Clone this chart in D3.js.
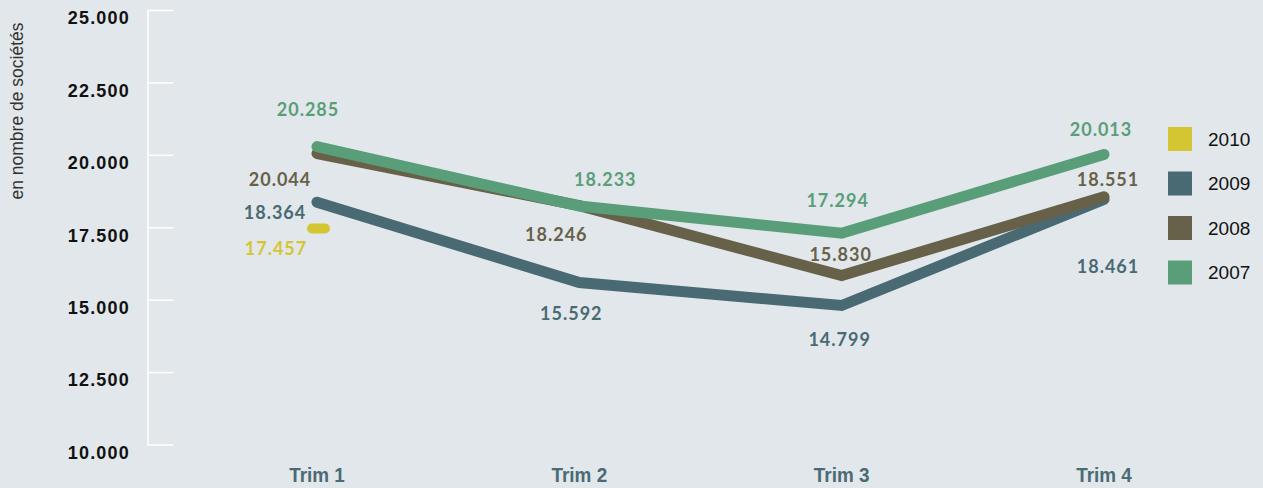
<!DOCTYPE html>
<html>
<head>
<meta charset="utf-8">
<script src="https://cdn.jsdelivr.net/npm/d3@7"></script>
<style>
  html, body { margin: 0; padding: 0; background: #e2e7eb; }
  svg { display: block; }
</style>
</head>
<body>
<svg id="chart" width="1263" height="488"></svg>
<script>
// Quarterly number of companies per year
const quarters = ["Trim 1", "Trim 2", "Trim 3", "Trim 4"];
const years = ["2010", "2009", "2008", "2007"];
const values2007 = [20285, 18233, 17294, 20013];
const values2008 = [20044, 18246, 15830, 18551];
const values2009 = [18364, 15592, 14799, 18461];
const values2010 = [17457];
const yTicks = [10000, 12500, 15000, 17500, 20000, 22500, 25000];

const colors = {
  "2010": "#d4c632",
  "2009": "#496a73",
  "2008": "#676149",
  "2007": "#5a9e79"
};

const seriesValues = {
  "2010": values2010,
  "2009": values2009,
  "2008": values2008,
  "2007": values2007
};

// Pixel nudges for the value labels, relative to their point [dx, dy]
const labelNudge = {
  "2007": [[-9, -37], [26, -26], [-4, -33], [-3, -25]],
  "2008": [[-37, 26], [-23, 29], [-1, -21], [4, -17]],
  "2009": [[-42, 10], [-8, 31], [-2, 34], [4, 67]],
  "2010": [[-41, 20]]
};

const svg = d3.select("#chart");

const x = d3.scalePoint().domain(quarters).range([317, 1104]);
const y = d3.scaleLinear().domain([10000, 25000]).range([444.5, 10]);

const fmt = v => d3.format(",")(v).replace(/,/g, ".");

// Y axis: white spine with short white ticks to the right
const yAxis = d3.axisRight(y).tickValues(yTicks).tickSize(26).tickFormat("");
const gy = svg.append("g").attr("transform", "translate(147.5,0)").call(yAxis);
gy.selectAll(".domain").attr("stroke", "#ffffff").attr("stroke-width", 1.5)
  .attr("d", `M0.5,${y(25000)}V${y(10000)}`);
gy.selectAll(".tick line").attr("stroke", "#ffffff").attr("stroke-width", 1.5);

// Tick labels
svg.append("g").selectAll("text").data(yTicks).join("text")
  .attr("x", 130)
  .attr("y", d => y(d) + 8)
  .attr("dy", "0.35em")
  .attr("text-anchor", "end")
  .attr("font-family", "Liberation Sans, Arial, sans-serif")
  .attr("font-weight", "bold")
  .attr("font-size", 18)
  .attr("letter-spacing", 1.2)
  .attr("fill", "#111111")
  .text(fmt);

// Axis title
svg.append("text")
  .attr("transform", "translate(17,111) rotate(-90)")
  .attr("dy", "0.35em")
  .attr("text-anchor", "middle")
  .attr("font-family", "Liberation Sans, Arial, sans-serif")
  .attr("font-size", 17.5)
  .attr("fill", "#333333")
  .text("en nombre de sociétés");

// Category labels (bold, slightly condensed)
svg.append("g").selectAll("text").data(quarters).join("text")
  .attr("transform", d => `translate(${x(d)},474.5) scale(0.9,1)`)
  .attr("dy", "0.35em")
  .attr("text-anchor", "middle")
  .attr("font-family", "Liberation Sans, Arial, sans-serif")
  .attr("font-weight", "bold")
  .attr("font-size", 21)
  .attr("fill", "#4a6b74")
  .text(d => d);

// Lines, 2007 drawn last so it sits on top
const line = d3.line()
  .x((d, i) => x(quarters[i]))
  .y(d => y(d));

const gLines = svg.append("g");
years.forEach(yr => {
  const vals = seriesValues[yr];
  if (vals.length > 1) {
    gLines.append("path")
      .attr("d", line(vals))
      .attr("fill", "none")
      .attr("stroke", colors[yr])
      .attr("stroke-width", 11)
      .attr("stroke-linecap", "round")
      .attr("stroke-linejoin", "miter");
  } else {
    // a lone first-quarter value drawn as a short stroke
    const cx = x(quarters[0]);
    gLines.append("line")
      .attr("x1", cx - 5).attr("x2", cx + 8)
      .attr("y1", y(vals[0])).attr("y2", y(vals[0]))
      .attr("stroke", colors[yr])
      .attr("stroke-width", 10)
      .attr("stroke-linecap", "round");
  }
});

// Value labels
const gLabels = svg.append("g");
years.forEach(yr => {
  seriesValues[yr].forEach((v, i) => {
    const [dx, dy] = labelNudge[yr][i];
    gLabels.append("text")
      .attr("x", x(quarters[i]) + dx)
      .attr("y", y(v) + dy)
      .attr("dy", "0.35em")
      .attr("text-anchor", "middle")
      .attr("font-family", "Lato, Liberation Sans, sans-serif")
      .attr("font-weight", "bold")
      .attr("font-size", 18)
      .attr("letter-spacing", 1)
      .attr("fill", colors[yr])
      .text(fmt(v));
  });
});

// Legend
const legend = svg.append("g").selectAll("g").data(years).join("g")
  .attr("transform", (d, i) => `translate(1168,${127 + i * 44.5})`);
legend.append("rect")
  .attr("width", 24).attr("height", 24)
  .attr("fill", d => colors[d]);
legend.append("text")
  .attr("x", 40).attr("y", 12)
  .attr("dy", "0.35em")
  .attr("font-family", "Liberation Sans, Arial, sans-serif")
  .attr("font-size", 19)
  .attr("fill", "#111111")
  .text(d => d);
</script>
</body>
</html>
